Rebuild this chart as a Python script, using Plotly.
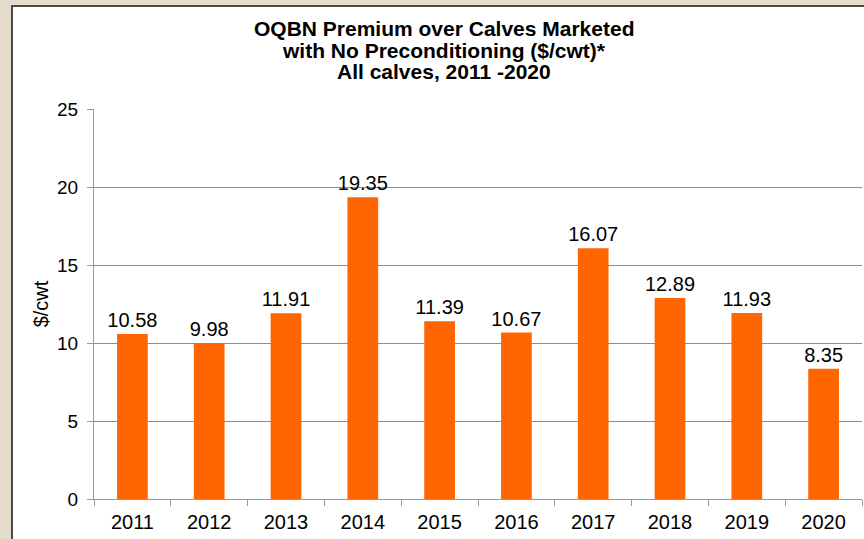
import plotly.graph_objects as go

years = ["2011", "2012", "2013", "2014", "2015", "2016", "2017", "2018", "2019", "2020"]
premium = [10.58, 9.98, 11.91, 19.35, 11.39, 10.67, 16.07, 12.89, 11.93, 8.35]
labels = ["10.58", "9.98", "11.91", "19.35", "11.39", "10.67", "16.07", "12.89", "11.93", "8.35"]
title_lines = ["OQBN Premium over Calves Marketed",
               "with No Preconditioning ($/cwt)*",
               "All calves, 2011 -2020"]

FONT = "Liberation Sans, Arial, sans-serif"
W, H = 864, 539
L, R, T, B = 94, 2, 109, 40
PW, PH = W - L - R, H - T - B


def px_x(x):
    return (x - L) / PW


def px_y(y):
    return (H - B - y) / PH


fig = go.Figure(go.Bar(
    x=years, y=premium, text=labels, textposition="outside",
    textfont=dict(family=FONT, size=20, color="#000"),
    constraintext="none",
    marker=dict(color="#FF6600", line=dict(width=0)),
    cliponaxis=False,
    hoverinfo="skip",
))

annotations = []
for i, line in enumerate(title_lines):
    annotations.append(dict(
        text="<b>" + line + "</b>", xref="paper", yref="paper",
        x=px_x(444), y=px_y(28 + 22 * i), xanchor="center", yanchor="middle",
        showarrow=False, font=dict(family=FONT, size=21, color="#000")))

fig.update_layout(
    width=W, height=H,
    paper_bgcolor="#E4DDCC",
    plot_bgcolor="rgba(0,0,0,0)",
    margin=dict(l=L, r=R, t=T, b=B, autoexpand=False),
    bargap=0.6,
    showlegend=False,
    font=dict(family=FONT, color="#000"),
    shapes=[
        dict(type="rect", xref="paper", yref="paper", layer="below",
             x0=px_x(12), x1=px_x(868), y0=px_y(543), y1=px_y(6),
             fillcolor="white", line=dict(color="#4a4a4a", width=2)),
    ],
    annotations=annotations,
)

fig.update_xaxes(
    type="category", showline=True, linecolor="#999", linewidth=1,
    ticks="outside", tickson="boundaries", ticklen=6, tickcolor="#999",
    ticklabelstandoff=5,
    tickfont=dict(family=FONT, size=20, color="#000"), showgrid=False,
)
fig.update_yaxes(
    range=[0, 25], dtick=5, showline=True, linecolor="#999", linewidth=1,
    ticks="outside", ticklen=6, tickcolor="#999", ticklabelstandoff=5,
    showgrid=True, gridcolor="#8c8c8c", gridwidth=1, zeroline=False,
    tickfont=dict(family=FONT, size=19, color="#000"),
    title=dict(text="$/cwt", font=dict(family=FONT, size=20, color="#000"), standoff=3),
)

fig.write_html("out.html", config={"displayModeBar": False},
               post_script="document.body.style.margin='0';document.body.style.background='#E4DDCC';")
